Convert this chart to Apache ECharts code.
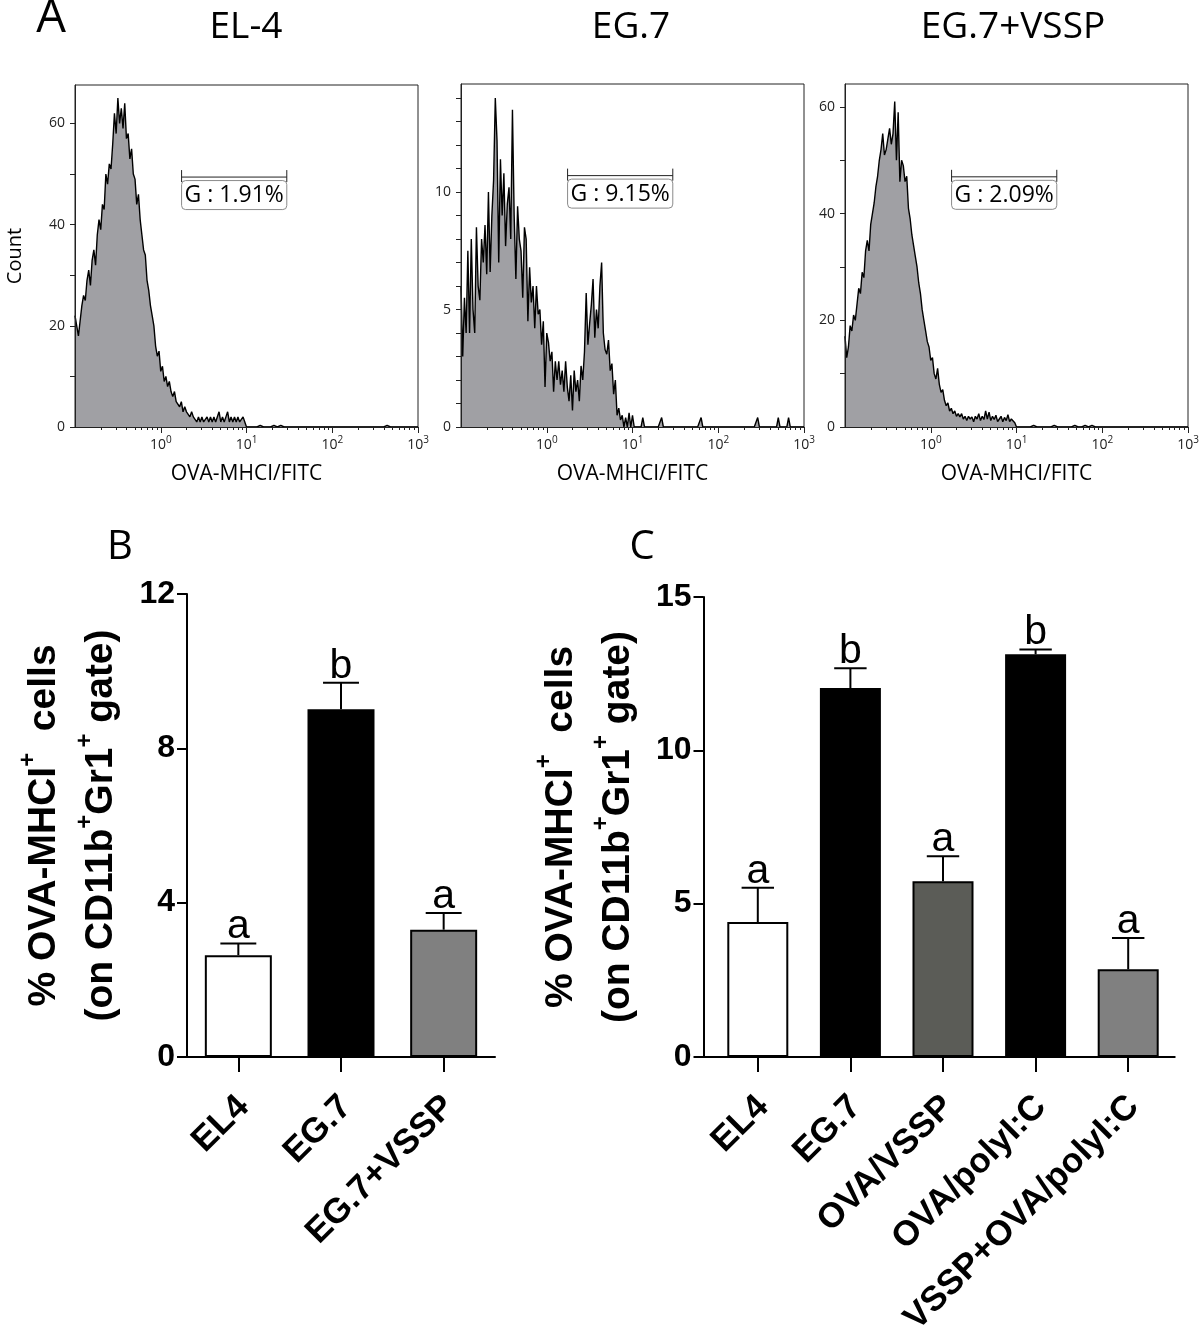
<!DOCTYPE html>
<html><head><meta charset="utf-8">
<script src="https://cdn.jsdelivr.net/npm/echarts@6/dist/echarts.min.js"></script>
<style>html,body{margin:0;padding:0;background:#fff}#c{width:1200px;height:1336px}</style>
</head><body><div id="c"></div>
<script>
// ===== Panel A: flow cytometry histograms (channels: 50 per decade, channel 0 = 10^-1) =====
const histTitles = ['EL-4', 'EG.7', 'EG.7+VSSP'];
const histCountsEL4 = [22,20,18,21,24,26,25,29,31,28,33,35,32,38,41,39,44,43,50,48,52,51,56,62,58,65,60,63,59,64,57,58,53,55,50,49,44,46,41,38,35,34,29,27,24,22,20,16,14,15,11,12,9,10,8,9,7,6,7,5,5,4,5,3,4,3,3,2,3,2,2,1,2,1,2,1,1,2,1,2,1,2,1,1,3,1,2,1,2,3,1,2,1,2,1,2,1,1,2,1,0];
const histCountsEG7 = [6,3,5.5,4,7.5,4,8,5,4,8.5,6,5.4,8,7,8.6,6.5,10,6.6,9,10.5,14,12.2,7,11.4,9,10.8,7.7,9.5,10.2,8,13.5,9,6.3,9.4,8,7.5,5.5,8.5,8,4.5,6.8,5.3,6,4.2,6,4.8,5,3.5,4.5,1.7,4,3.6,2.8,3.2,1.5,2.8,2,2.8,1.8,2.4,1.5,2.8,1.7,1.1,2.2,0.7,2.4,1.5,2,1.1,2.6,2,3.2,5.7,3.5,4.4,5.2,6.3,3.8,5,4.2,6,7,4,3.3,3.1,3.7,2.4,2.7,1.4,2,0.5,0.8,0.3,0.5,0,0.4,0,0.6,0,0.5];
const histCountsVSSP = [17,13,15,19,18,21,20,23,26,25,29,28,33,35,33,38,40,42,45,47,50,52,55,51,52,54,56,53,55,61,50,59,46,50,49,46,47,41,39,36,34,32,30,27,25,22,20,18,16,15,12.5,13,10,9,11,8,6.5,7,5,4,4.5,3,3.5,2.5,3,2,2.5,1.9,2.5,1.5,2,1.2,2,1.5,1.9,1,2,1.5,2.5,1.2,2,1.4,3,1.5,2.8,1.2,2,1.4,2.2,1,1.5,2,1,1.8,1.2,2.3,1,1.5,1.2,0.8,0];
// sparse high-intensity events: [channel, count]
const histTailEL4 = [[108,0.3],[116,0.3],[120,0.3],[127,0.3],[182,0.3]];
const histTailEG7 = [[106,0.4],[117,0.4],[140,0.4],[173,0.4],[185,0.4],[191,0.4]];
const histTailVSSP = [[107,0.3],[110,0.3],[122,0.3],[134,0.3],[140,0.3],[144,0.3],[149,0.3]];
const histYMax = [67.6, 14.6, 64.3];
const histYLabels = [[0,20,40,60],[0,5,10],[0,20,40,60]];
const histYTicks = [[0,10,20,30,40,50,60],[0,1,2,3,4,5,6,7,8,9,10,11,12,13,14],[0,10,20,30,40,50,60]];
const histXExponents = [0,1,2,3];
const gateRange = [1.75, 29.5];
const gateLabels = ['G : 1.91%', 'G : 9.15%', 'G : 2.09%'];
const gateLevel = [49.4, 10.7, 46.9];

// ===== Panel B =====
const catB = ['EL4', 'EG.7', 'EG.7+VSSP'];
const meanB = [2.64, 9.01, 3.30];
const errB = [0.30, 0.69, 0.43];
const letterB = ['a', 'b', 'a'];
// ===== Panel C =====
const catC = ['EL4', 'EG.7', 'OVA/VSSP', 'OVA/polyI:C', 'VSSP+OVA/polyI:C'];
const meanC = [4.40, 12.03, 5.73, 13.13, 2.86];
const errC = [1.12, 0.65, 0.82, 0.16, 1.02];
const letterC = ['a', 'b', 'a', 'b', 'a'];

// ----- styles -----
const colorsB = ['#ffffff', '#000000', '#808080'];
const colorsC = ['#ffffff', '#000000', '#5b5c57', '#000000', '#808080'];
const HF = '"Open Sans", "DejaVu Sans", sans-serif';
const BF = '"Liberation Sans", Arial, sans-serif';
const CH_PER_DEC = 50;
const NCH = 201;

function buildHist(counts, tail) {
  const full = [];
  for (let i = 0; i < NCH; i++) full.push(i < counts.length ? counts[i] : 0);
  tail.forEach(t => { full[t[0]] = t[1]; });
  return full.map((c, i) => [-1 + i / CH_PER_DEC, c]);
}
const histData = [buildHist(histCountsEL4, histTailEL4), buildHist(histCountsEG7, histTailEG7), buildHist(histCountsVSSP, histTailVSSP)];
const minorTicks = [];
for (let e = -1; e < 3; e++) for (let m = 2; m <= 9; m++) minorTicks.push(e + Math.log10(m));

const gridBase = {outerBoundsMode: 'none', containLabel: false};
const grids = [
  {left: 75, top: 85, width: 343, height: 342, show: true, borderColor: '#222', borderWidth: 1, backgroundColor: 'transparent'},
  {left: 461, top: 84, width: 343, height: 343, show: true, borderColor: '#222', borderWidth: 1, backgroundColor: 'transparent'},
  {left: 845, top: 84, width: 343, height: 343, show: true, borderColor: '#222', borderWidth: 1, backgroundColor: 'transparent'},
  {left: 187, top: 594, width: 308, height: 463},
  {left: 711.5, top: 597, width: 463, height: 460},
  {left: 703.5, top: 597, width: 471, height: 460} // helper: C baseline reaching the y axis
].map(g => Object.assign({}, gridBase, g));

const xAxes = [], yAxes = [], series = [];
for (let k = 0; k < 3; k++) {
  xAxes.push({
    type: 'value', gridIndex: k, min: -1, max: 3, position: 'bottom', z: 10,
    axisLine: {show: true, onZero: false, lineStyle: {color: '#222', width: 1}},
    axisTick: {show: true, customValues: histXExponents, length: 6, lineStyle: {color: '#222'}},
    splitLine: {show: false},
    axisLabel: {show: true, customValues: histXExponents, margin: 8, color: '#222',
      formatter: v => '{b|10}{s|' + v + '}',
      rich: {b: {fontSize: 14, fontFamily: HF, lineHeight: 20, color: '#222'}, s: {fontSize: 10, fontFamily: HF, verticalAlign: 'top', lineHeight: 10, color: '#222'}}},
    name: 'OVA-MHCI/FITC', nameLocation: 'middle', nameGap: 37,
    nameTextStyle: {fontSize: 21, fontFamily: HF, color: '#000'}
  });
}
for (let k = 0; k < 3; k++) {
  xAxes.push({
    type: 'value', gridIndex: k, min: -1, max: 3, position: 'bottom', z: 10,
    axisLine: {show: false, onZero: false}, splitLine: {show: false}, axisLabel: {show: false},
    axisTick: {show: true, customValues: minorTicks, length: 3, lineStyle: {color: '#222'}}
  });
}
for (let k = 0; k < 3; k++) {
  yAxes.push({
    type: 'value', gridIndex: k, min: 0, max: histYMax[k], z: 10,
    axisLine: {show: true, onZero: false, lineStyle: {color: '#222', width: 1}},
    axisTick: {show: true, customValues: histYTicks[k], length: 5, lineStyle: {color: '#222'}},
    splitLine: {show: false},
    axisLabel: {show: true, customValues: histYLabels[k], margin: 10, fontSize: 14, fontFamily: HF, color: '#222'},
    name: k === 0 ? 'Count' : '', nameLocation: 'middle', nameRotate: 90, nameGap: 50,
    nameTextStyle: {fontSize: 20, fontFamily: HF, color: '#000'}
  });
  series.push({
    type: 'line', xAxisIndex: k, yAxisIndex: k, data: histData[k], showSymbol: false, symbol: 'none',
    lineStyle: {color: '#000', width: 1.4}, areaStyle: {color: '#a0a0a4', opacity: 1}, z: 2, silent: true
  });
  series.push({
    type: 'custom', xAxisIndex: k, yAxisIndex: k, z: 5, silent: true,
    data: [[Math.log10(gateRange[0]), Math.log10(gateRange[1]), gateLevel[k], k]],
    renderItem: (params, api) => {
      const p1 = api.coord([api.value(0), api.value(2)]);
      const p2 = api.coord([api.value(1), api.value(2)]);
      const s = {stroke: '#222', lineWidth: 1};
      return {type: 'group', children: [
        {type: 'rect', shape: {x: p1[0], y: p1[1] + 3.5, width: p2[0] - p1[0], height: 29, r: 4}, style: {fill: '#fff', stroke: '#8a8a8a', lineWidth: 1}},
        {type: 'line', shape: {x1: p1[0], y1: p1[1], x2: p2[0], y2: p2[1]}, style: s},
        {type: 'line', shape: {x1: p1[0], y1: p1[1] - 7, x2: p1[0], y2: p1[1] + 5}, style: s},
        {type: 'line', shape: {x1: p2[0], y1: p2[1] - 7, x2: p2[0], y2: p2[1] + 5}, style: s},
        {type: 'text', x: (p1[0] + p2[0]) / 2, y: p1[1] + 18.5, style: {text: gateLabels[api.value(3)], fill: '#000', font: '23px ' + HF, align: 'center', verticalAlign: 'middle', textAlign: 'center', textVerticalAlign: 'middle'}}
      ]};
    }
  });
}

function barAxes(cats, gridIdx, max, interval, offset, nameGap) {
  xAxes.push({
    type: 'category', gridIndex: gridIdx, data: cats, position: 'bottom',
    axisLine: {show: true, onZero: false, lineStyle: {color: '#000', width: 2}},
    axisTick: {show: true, alignWithLabel: true, length: 15, lineStyle: {color: '#000', width: 2}},
    axisLabel: {show: true, interval: 0, rotate: 45, margin: 39, verticalAlign: 'top', lineHeight: 15,
      fontSize: 35, fontWeight: 'bold', fontFamily: BF, color: '#000'}
  });
  yAxes.push({
    type: 'value', gridIndex: gridIdx, min: 0, max: max, interval: interval, offset: offset,
    axisLine: {show: true, onZero: false, lineStyle: {color: '#000', width: 2}},
    axisTick: {show: true, length: 10, lineStyle: {color: '#000', width: 2}},
    splitLine: {show: false},
    axisLabel: {show: true, margin: 12, fontSize: 32, fontWeight: 'bold', fontFamily: BF, color: '#000'},
    name: '{t|% OVA-MHCI}{s|+}{t|  cells}\n{t|(on CD11b}{s|+}{t|Gr1}{s|+}{t| gate)}',
    nameLocation: 'middle', nameRotate: 90, nameGap: nameGap,
    nameTextStyle: {rich: {
      t: {fontSize: 39, fontWeight: 'bold', fontFamily: BF, lineHeight: 57, color: '#000'},
      s: {fontSize: 24, fontWeight: 'bold', fontFamily: BF, lineHeight: 26, verticalAlign: 'top', color: '#000'}
    }}
  });
}
barAxes(catB, 3, 12, 4, 0, 57);
barAxes(catC, 4, 15, 5, 8, 57);
// helper axis pair for grid 5 (only the baseline line is visible)
xAxes.push({type: 'value', gridIndex: 5, min: 0, max: 1, axisLine: {show: true, onZero: false, lineStyle: {color: '#000', width: 2}}, axisTick: {show: false}, axisLabel: {show: false}, splitLine: {show: false}});
yAxes.push({type: 'value', gridIndex: 5, min: 0, max: 1, show: false});

function errRenderer(letters) {
  return (params, api) => {
    const idx = api.value(0), m = api.value(1), e = api.value(2);
    const b = api.coord([idx, m]);
    const t = api.coord([idx, m + e]);
    const hw = api.size([1, 0])[0] * 0.175;
    const s = {stroke: '#000', lineWidth: 2};
    return {type: 'group', children: [
      {type: 'line', shape: {x1: b[0], y1: b[1], x2: t[0], y2: t[1]}, style: s},
      {type: 'line', shape: {x1: t[0] - hw, y1: t[1], x2: t[0] + hw, y2: t[1]}, style: s},
      {type: 'text', x: t[0], y: t[1] + 4, style: {text: letters[params.dataIndex], fill: '#000', font: '41px ' + BF, align: 'center', verticalAlign: 'bottom', textAlign: 'center', textVerticalAlign: 'bottom'}}
    ]};
  };
}
function addBars(means, errs, letters, colors, xi, yi, bw) {
  series.push({
    type: 'bar', xAxisIndex: xi, yAxisIndex: yi, barWidth: bw, z: 2, silent: true,
    data: means.map((v, i) => ({value: v, itemStyle: {color: colors[i], borderColor: '#000', borderWidth: 2}}))
  });
  series.push({
    type: 'custom', xAxisIndex: xi, yAxisIndex: yi, z: 3, silent: true,
    data: means.map((v, i) => [i, v, errs[i]]),
    renderItem: errRenderer(letters)
  });
}
addBars(meanB, errB, letterB, colorsB, 6, 3, 67);
addBars(meanC, errC, letterC, colorsC, 7, 4, 61);

const txt = (t, x, y, size, fam) => ({type: 'text', x: x, y: y, silent: true,
  style: {text: t, fill: '#000', font: size + 'px ' + fam, align: 'center', verticalAlign: 'middle', textAlign: 'center', textVerticalAlign: 'middle'}});

const chart = echarts.init(document.getElementById('c'), null, {renderer: 'canvas'});
chart.setOption({
  animation: false,
  backgroundColor: '#fff',
  grid: grids,
  xAxis: xAxes,
  yAxis: yAxes,
  series: series,
  graphic: [
    txt('A', 51, 19, 47, HF),
    txt(histTitles[0], 246, 27, 37, HF),
    txt(histTitles[1], 631, 27, 37, HF),
    txt(histTitles[2], 1013, 27, 37, HF),
    txt('B', 120, 548, 40, HF),
    txt('C', 642, 548, 40, HF)
  ]
});
</script></body></html>
